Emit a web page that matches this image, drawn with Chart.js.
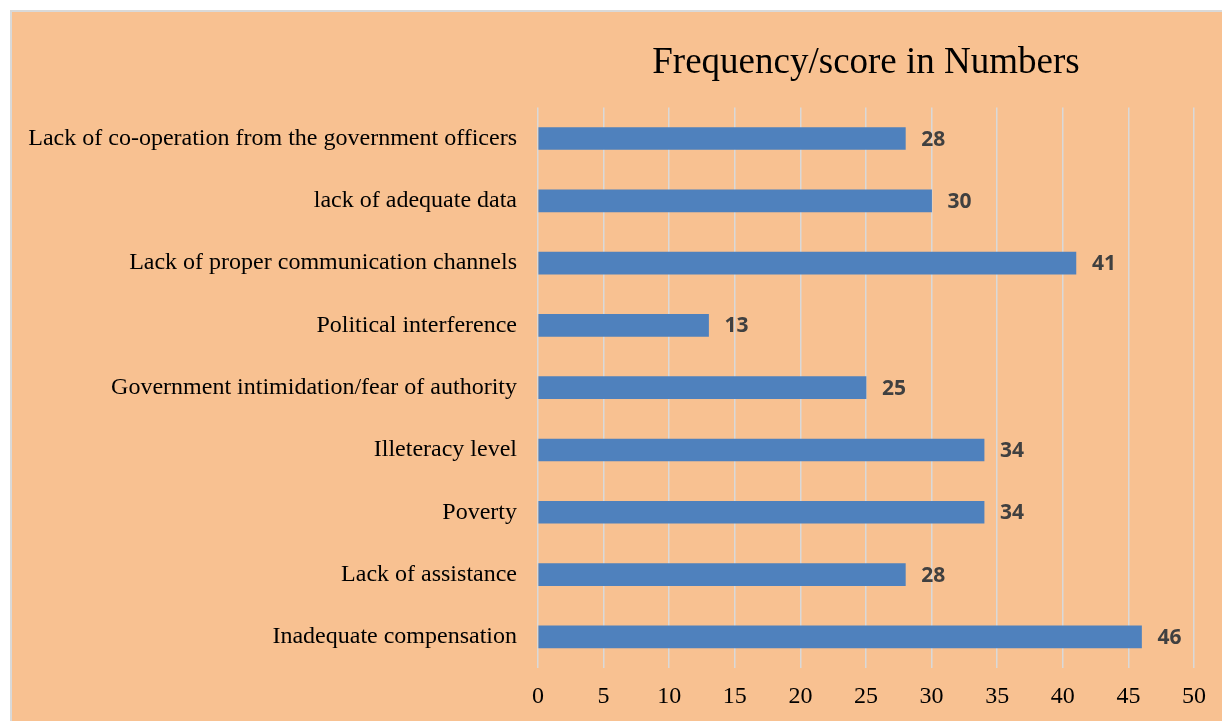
<!DOCTYPE html>
<html>
<head>
<meta charset="utf-8">
<script src="https://cdn.jsdelivr.net/npm/chart.js@4.4.1/dist/chart.umd.min.js"></script>
<style>
  html, body { margin: 0; padding: 0; background: #fff; overflow: hidden; }
  #wrap { position: absolute; left: 0; top: 0; width: 1222px; height: 721px; }
</style>
</head>
<body>
<div id="wrap"><canvas id="chart"></canvas></div>
<script>
// values, top to bottom
const categories = [
  "Lack of co-operation from the government officers",
  "lack of adequate data",
  "Lack of proper communication channels",
  "Political interference",
  "Government intimidation/fear of authority",
  "Illeteracy level",
  "Poverty",
  "Lack of assistance",
  "Inadequate compensation"
];
const scores = [28, 30, 41, 13, 25, 34, 34, 28, 46];
const chartTitle = "Frequency/score in Numbers";

const PEACH = "#F8C191";
const BLUE = "#4F81BD";

// page frame: white margin, grey border, peach panel
const frame = {
  id: "frame",
  beforeDraw(chart) {
    const { ctx, width, height } = chart;
    ctx.save();
    ctx.fillStyle = "#fff";
    ctx.fillRect(0, 0, width, height);
    ctx.fillStyle = "#D9D9D9";
    ctx.fillRect(10, 10, width - 10, height - 10);
    ctx.fillStyle = PEACH;
    ctx.fillRect(12, 12, width - 12, height - 12);
    ctx.restore();
  }
};

// value labels to the right of each bar
const valueLabels = {
  id: "valueLabels",
  afterDatasetsDraw(chart) {
    const { ctx } = chart;
    const meta = chart.getDatasetMeta(0);
    ctx.save();
    ctx.font = "bold 21px 'Open Sans'";
    ctx.fillStyle = "#404040";
    ctx.textAlign = "left";
    ctx.textBaseline = "middle";
    meta.data.forEach((bar, i) => {
      ctx.fillText(String(scores[i]), bar.x + 16, bar.y + 1);
    });
    ctx.restore();
  }
};

new Chart(document.getElementById("chart"), {
  type: "bar",
  data: {
    labels: categories,
    datasets: [{
      data: scores,
      backgroundColor: BLUE,
      barThickness: 22
    }]
  },
  plugins: [frame, valueLabels],
  options: {
    indexAxis: "y",
    responsive: true,
    maintainAspectRatio: false,
    animation: false,
    layout: { padding: { top: 12, right: 28, bottom: 10, left: 0 } },
    plugins: {
      legend: { display: false },
      tooltip: { enabled: false },
      title: {
        display: true,
        text: chartTitle,
        fullSize: false,
        color: "#000",
        font: { family: "'Liberation Serif'", size: 37, weight: "normal", lineHeight: 1.2 },
        padding: { top: 29, bottom: 22 }
      }
    },
    scales: {
      x: {
        min: 0, max: 50,
        afterFit(scale) { scale.height = 43; },
        ticks: { stepSize: 5, color: "#000", padding: 14, font: { family: "'Liberation Serif'", size: 24 } },
        grid: { color: "#D9D9D9", lineWidth: 1.5, drawTicks: false },
        border: { display: false }
      },
      y: {
        afterFit(scale) { scale.width = 538; },
        ticks: { color: "#000", padding: 21, font: { family: "'Liberation Serif'", size: 24 } },
        grid: { display: false, drawTicks: false },
        border: { display: false }
      }
    }
  }
});
</script>
</body>
</html>
